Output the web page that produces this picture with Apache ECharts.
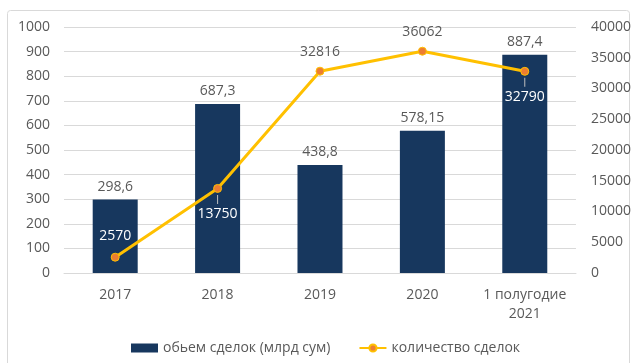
<!DOCTYPE html>
<html>
<head>
<meta charset="utf-8">
<script src="https://cdn.jsdelivr.net/npm/echarts@6/dist/echarts.min.js"></script>
<style>
  html, body { margin: 0; padding: 0; background: #fff; }
  #chart { width: 634px; height: 363px; }
</style>
</head>
<body>
<div id="chart"></div>
<script>
// Categories and series values
const categories = ['2017', '2018', '2019', '2020', '1 полугодие\n2021'];
const volumeLabels = ['298,6', '687,3', '438,8', '578,15', '887,4'];
const volumeValues = [298.6, 687.3, 438.8, 578.15, 887.4];
const dealCounts = [2570, 13750, 32816, 36062, 32790];
// Where each count label sits relative to its point
const countLabelPos = ['inTop', 'below', 'top', 'top', 'below'];

const FONT = '"Open Sans", sans-serif';
const TEXT = '#595959';

const chart = echarts.init(document.getElementById('chart'), null, { renderer: 'canvas' });

function countLabel(pos, value) {
  if (pos === 'top') {
    return { show: true, position: 'top', distance: 8, color: TEXT, fontSize: 14, fontFamily: FONT };
  }
  if (pos === 'inTop') {
    return { show: true, position: 'top', distance: 10, color: '#fff', fontSize: 14, fontFamily: FONT };
  }
  // below the point, with a short leader tick
  return {
    show: true, position: 'bottom', distance: 2,
    formatter: '{t|}\n{v|' + value + '}',
    rich: {
      t: { width: 1, height: 9, backgroundColor: '#BFBFBF', align: 'center' },
      v: { color: '#fff', fontSize: 14, fontFamily: FONT, lineHeight: 20, align: 'center' }
    }
  };
}

const option = {
  animation: false,
  textStyle: { fontFamily: FONT },
  graphic: [{
    type: 'rect',
    shape: { x: 7.5, y: 10.5, width: 622, height: 360, r: 3 },
    style: { fill: 'none', stroke: '#D9D9D9', lineWidth: 1 },
    z: -10
  }],
  grid: { left: 64, right: 57, top: 27, bottom: 90 },
  legend: {
    left: 126, top: 336,
    itemGap: 28,
    textStyle: { color: TEXT, fontSize: 14, fontFamily: FONT },
    data: [
      { name: 'обьем сделок (млрд сум)', icon: 'rect', itemStyle: { color: '#17375E' } },
      { name: 'количество сделок' }
    ],
    itemWidth: 27, itemHeight: 9
  },
  xAxis: {
    type: 'category',
    data: categories,
    axisLine: { show: true, lineStyle: { color: '#D9D9D9' } },
    axisTick: { show: false },
    axisLabel: { color: TEXT, fontSize: 14, fontFamily: FONT, margin: 13, lineHeight: 19, interval: 0 }
  },
  yAxis: [{
    type: 'value', min: 0, max: 1000, interval: 100,
    axisLine: { show: false }, axisTick: { show: false },
    axisLabel: { color: TEXT, fontSize: 14, fontFamily: FONT, margin: 14, formatter: v => String(v) },
    splitLine: { lineStyle: { color: '#D9D9D9', width: 1 } }
  }, {
    type: 'value', min: 0, max: 40000, interval: 5000,
    axisLine: { show: false }, axisTick: { show: false },
    axisLabel: { color: TEXT, fontSize: 14, fontFamily: FONT, margin: 15, formatter: v => String(v) },
    splitLine: { show: false }
  }],
  series: [{
    name: 'обьем сделок (млрд сум)',
    type: 'bar',
    barWidth: 45,
    data: volumeValues,
    itemStyle: { color: '#17375E' },
    label: {
      show: true, position: 'top', distance: 6,
      color: TEXT, fontSize: 14, fontFamily: FONT,
      formatter: p => volumeLabels[p.dataIndex]
    }
  }, {
    name: 'количество сделок',
    type: 'line',
    yAxisIndex: 1,
    data: dealCounts.map((v, i) => ({ value: v, label: countLabel(countLabelPos[i], v) })),
    lineStyle: { color: '#FFC000', width: 3 },
    symbol: 'circle',
    symbolSize: 8,
    itemStyle: { color: '#ED7D31', borderColor: '#FFC000', borderWidth: 1 },
    z: 5
  }]
};

chart.setOption(option);
</script>
</body>
</html>
